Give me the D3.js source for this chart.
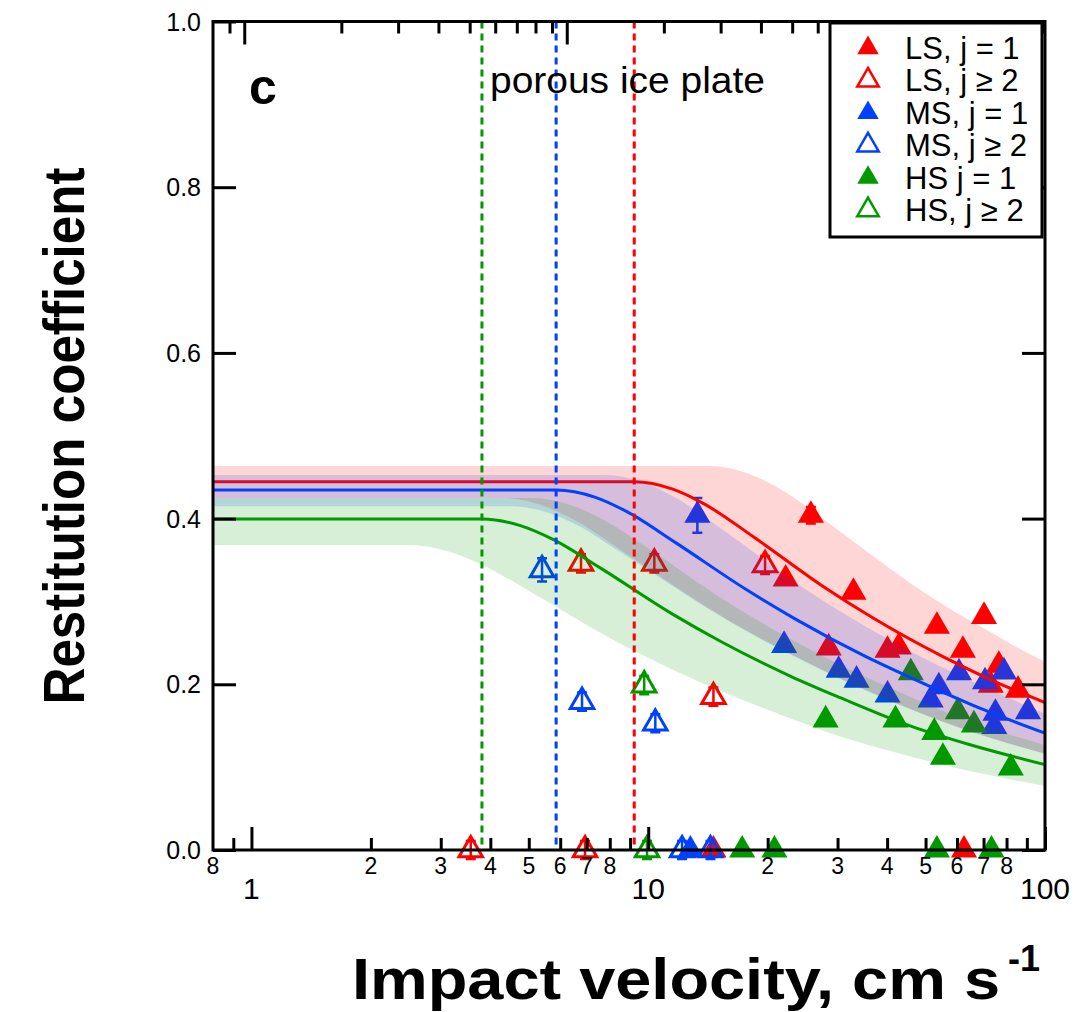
<!DOCTYPE html>
<html>
<head>
<meta charset="utf-8">
<script src="https://cdn.jsdelivr.net/npm/d3@7"></script>
<style>
  body { margin: 0; background: #fff; }
  svg { display: block; font-family: "Liberation Sans", Arial, Helvetica, sans-serif; }
</style>
</head>
<body>
<svg id="chart" width="1084" height="1012"></svg>
<script>
// ---- data ----
// LS = red, MS = blue, HS = green ; filled = j = 1, open = j >= 2
var lsFilledV = [25.7, 22.2, 32.9, 53.4, 70.2, 62.1, 76.5, 28.5, 40.1, 42.8, 73.0, 85.5, 14.6, 62.5];
var lsFilledE = [0.404, 0.327, 0.311, 0.270, 0.282, 0.241, 0.223, 0.244, 0.241, 0.245, 0.199, 0.193, 0, 0];
var lsOpenV = [6.77, 10.36, 19.7, 14.6, 3.57, 6.93];
var lsOpenE = [0.346, 0.346, 0.344, 0.185, 0, 0];

var msFilledV = [13.3, 22.0, 30.2, 33.5, 40.1, 60.7, 54.0, 51.5, 70.6, 78.8, 75.0, 74.5, 90.6, 12.77];
var msFilledE = [0.404, 0.247, 0.217, 0.205, 0.187, 0.214, 0.197, 0.181, 0.203, 0.215, 0.165, 0.149, 0.167, 0];
var msOpenV = [5.40, 6.81, 10.42, 12.17, 14.35];
var msOpenE = [0.338, 0.179, 0.153, 0, 0];

var hsFilledV = [45.9, 60.3, 66.2, 28.0, 42.0, 52.6, 55.3, 82.0, 17.25, 20.8, 53.4, 73.3];
var hsFilledE = [0.214, 0.167, 0.151, 0.157, 0.157, 0.142, 0.112, 0.099, 0, 0, 0, 0];
var hsOpenV = [9.77, 9.93];
var hsOpenE = [0.199, 0];

// error bars (only the visible ones)
var errLsFilled = [0.010, 0, 0, 0, 0, 0, 0, 0, 0, 0, 0, 0, 0, 0];
var errMsFilled = [0.021, 0, 0, 0, 0, 0, 0, 0, 0, 0, 0, 0, 0, 0];
var errOpenLs = [0.011, 0.011, 0.011, 0.011, 0.011, 0.011];
var errOpenMs = [0.014, 0.011, 0.011, 0.011, 0.011];
var errOpenHs = [0.011, 0.011];

// fitted curves
var redFitV = [0.8, 9.22, 11.53, 13.83, 18.44, 27.66, 36.88, 55.32, 73.76, 100];
var redFitE = [0.4445, 0.4445, 0.4356, 0.4178, 0.3778, 0.3178, 0.2800, 0.2334, 0.2045, 0.178];
var blueFitV = [0.8, 5.86, 7.33, 8.79, 11.72, 17.58, 23.44, 35.16, 46.88, 70.32, 100];
var blueFitE = [0.4345, 0.4345, 0.426, 0.409, 0.371, 0.315, 0.279, 0.234, 0.206, 0.169, 0.141];
var greenFitV = [0.8, 3.81, 4.76, 5.72, 7.62, 11.43, 15.24, 22.86, 30.48, 45.72, 64.77, 100];
var greenFitE = [0.3995, 0.3995, 0.3915, 0.3755, 0.3396, 0.2856, 0.2517, 0.2097, 0.1838, 0.1498, 0.1270, 0.103];

// uncertainty bands (upper / lower on a shared velocity grid)
var redBandV = [0.8, 4.3, 5.4, 6.45, 8.6, 11, 14.3, 17.9, 21.5, 28.6, 36, 43, 57, 73, 86, 100];
var redBandHi = [0.4635, 0.4635, 0.4635, 0.4635, 0.4635, 0.4635, 0.4635, 0.4542, 0.4357, 0.394, 0.3585, 0.3314, 0.2925, 0.2628, 0.2433, 0.2273];
var redBandLo = [0.425, 0.425, 0.416, 0.3995, 0.361, 0.3264, 0.291, 0.2634, 0.2431, 0.2133, 0.1915, 0.1756, 0.1524, 0.1352, 0.1253, 0.1162];
var blueBandV = [0.8, 4.5, 5.6, 6.75, 7.8, 9.75, 11.7, 15.6, 23.4, 31.2, 46.8, 62.4, 80, 100];
var blueBandHi = [0.4526, 0.4526, 0.4526, 0.4526, 0.4526, 0.4435, 0.4254, 0.3847, 0.3236, 0.2851, 0.2376, 0.2082, 0.1846, 0.1648];
var blueBandLo = [0.415, 0.415, 0.4071, 0.3901, 0.3713, 0.3417, 0.3165, 0.279, 0.2332, 0.2043, 0.1681, 0.1458, 0.1293, 0.1161];
var greenBandV = [0.8, 2.5, 3.125, 3.75, 5.1, 6.375, 7.65, 10.2, 15.3, 20.4, 30.6, 40.8, 62.5, 100];
var greenBandHi = [0.425, 0.425, 0.425, 0.425, 0.425, 0.4165, 0.3995, 0.3613, 0.3039, 0.2678, 0.2231, 0.1955, 0.1579, 0.1265];
var greenBandLo = [0.368, 0.368, 0.3606, 0.3459, 0.3104, 0.283, 0.261, 0.230, 0.1915, 0.1677, 0.1368, 0.1195, 0.0968, 0.0773];

// vertical markers (yield velocities)
var vLines = [3.81, 5.86, 9.22];

// axes
var xMinorTicks = [0.9, 2, 3, 4, 5, 6, 7, 8, 9, 20, 30, 40, 50, 60, 70, 80, 90];
var xMajorTicks = [1, 10, 100];
var xMinorLabels = [[0.8, "8"], [2, "2"], [3, "3"], [4, "4"], [5, "5"], [6, "6"], [7, "7"], [8, "8"],
                    [20, "2"], [30, "3"], [40, "4"], [50, "5"], [60, "6"], [70, "7"], [80, "8"]];
var topMinorTicks = [0.9, 2, 3, 4, 5, 6, 7, 8, 9, 20, 30, 40, 50, 60, 70, 80, 90, 200, 300];
var topDomain = [0.8, 304];
var yTicks = [0, 0.2, 0.4, 0.6, 0.8, 1.0];

var legendItems = [
    {label: "LS, j = 1", color: "#ff0000", open: false},
    {label: "LS, j \u2265 2", color: "#ff0000", open: true},
    {label: "MS, j = 1", color: "#0040ff", open: false},
    {label: "MS, j \u2265 2", color: "#0040ff", open: true},
    {label: "HS j = 1", color: "#009900", open: false},
    {label: "HS, j \u2265 2", color: "#009900", open: true}
];

var RED = "#ff0000", BLUE = "#0040ff", GREEN = "#009900";

// ---- layout ----
var L = 213, R = 1045, T = 21.5, B = 850;
var svg = d3.select('#chart');

var x = d3.scaleLog().domain([0.8, 100]).range([L, R]);
var xTop = d3.scaleLog().domain(topDomain).range([L, R]);
var y = d3.scaleLinear().domain([0, 1]).range([B, T]);

function zip(vs, es) {
    return vs.map(function(v, i) { return {v: v, e: es[i]}; });
}

var plot = svg.append('g');

// markers first, bands are laid over them
function drawMarkers(vs, es, errs, color, open) {
    var pts = vs.map(function(v, i) { return {v: v, e: es[i], err: errs[i] || 0}; });
    var g = plot.append('g');
    pts.filter(function(d) { return d.err > 0; })
        .forEach(function(d) {
            var y0 = y(d.e - d.err), y1 = y(d.e + d.err), cx = x(d.v);
            g.append('path')
                .attr('d', 'M' + cx + ',' + y0 + 'V' + y1 + 'M' + (cx - 5) + ',' + y0 + 'h10M' + (cx - 5) + ',' + y1 + 'h10')
                .attr('stroke', color)
                .attr('stroke-width', 2.5)
                .attr('fill', 'none');
        });
    g.selectAll('path.tri')
        .data(pts)
        .enter()
        .append('path')
        .attr('class', 'tri')
        .attr('d', d3.symbol(d3.symbolTriangle, open ? 240 : 295))
        .attr('transform', function(d) { return 'translate(' + x(d.v) + ',' + y(d.e) + ')'; })
        .attr('fill', open ? 'none' : color)
        .attr('stroke', open ? color : 'none')
        .attr('stroke-width', 3);
}

drawMarkers(lsFilledV, lsFilledE, errLsFilled, RED, false);
drawMarkers(msFilledV, msFilledE, errMsFilled, BLUE, false);
drawMarkers(hsFilledV, hsFilledE, [], GREEN, false);
drawMarkers(lsOpenV, lsOpenE, errOpenLs, RED, true);
drawMarkers(msOpenV, msOpenE, errOpenMs, BLUE, true);
drawMarkers(hsOpenV, hsOpenE, errOpenHs, GREEN, true);

var area = d3.area()
    .x(function(d) { return x(d.v); })
    .y0(function(d) { return y(d.lo); })
    .y1(function(d) { return y(d.hi); })
    .curve(d3.curveMonotoneX);
var line = d3.line()
    .x(function(d) { return x(d.v); })
    .y(function(d) { return y(d.e); })
    .curve(d3.curveMonotoneX);

function band(vs, hi, lo) {
    return vs.map(function(v, i) { return {v: v, hi: hi[i], lo: lo[i]}; });
}

function drawFit(bandPts, fitPts, color) {
    plot.append('path')
        .attr('d', area(bandPts))
        .attr('fill', color)
        .attr('fill-opacity', 0.16);
    plot.append('path')
        .attr('d', line(fitPts))
        .attr('fill', 'none')
        .attr('stroke', color)
        .attr('stroke-width', 3);
}

drawFit(band(redBandV, redBandHi, redBandLo), zip(redFitV, redFitE), RED);
drawFit(band(blueBandV, blueBandHi, blueBandLo), zip(blueFitV, blueFitE), BLUE);
drawFit(band(greenBandV, greenBandHi, greenBandLo), zip(greenFitV, greenFitE), GREEN);

// dashed yield lines
var vColors = [GREEN, BLUE, RED];
plot.selectAll('line.yield')
    .data(vLines)
    .enter()
    .append('line')
    .attr('class', 'yield')
    .attr('x1', function(d) { return x(d); })
    .attr('x2', function(d) { return x(d); })
    .attr('y1', T)
    .attr('y2', B)
    .attr('stroke', function(d, i) { return vColors[i]; })
    .attr('stroke-width', 3)
    .attr('stroke-dasharray', '7,5');

// ---- axes ----
function tickGroup(axis) {
    var g = svg.append('g').call(axis);
    g.select('.domain').remove();
    g.selectAll('line').attr('stroke', '#000').attr('stroke-width', 3);
    return g;
}

tickGroup(d3.axisBottom(x).tickValues(xMinorTicks).tickSize(-12).tickSizeOuter(0).tickFormat(''))
    .attr('transform', 'translate(0,' + B + ')');
tickGroup(d3.axisBottom(x).tickValues(xMajorTicks).tickSize(-23).tickSizeOuter(0).tickFormat(''))
    .attr('transform', 'translate(0,' + B + ')');
tickGroup(d3.axisTop(xTop).tickValues(topMinorTicks).tickSize(-12).tickSizeOuter(0).tickFormat(''))
    .attr('transform', 'translate(0,' + T + ')');
tickGroup(d3.axisTop(xTop).tickValues(xMajorTicks).tickSize(-23).tickSizeOuter(0).tickFormat(''))
    .attr('transform', 'translate(0,' + T + ')');
tickGroup(d3.axisLeft(y).tickValues(yTicks).tickSize(-23).tickSizeOuter(0).tickFormat(''))
    .attr('transform', 'translate(' + L + ',0)');
tickGroup(d3.axisRight(y).tickValues(yTicks).tickSize(-23).tickSizeOuter(0).tickFormat(''))
    .attr('transform', 'translate(' + R + ',0)');

svg.append('rect')
    .attr('x', L)
    .attr('y', T)
    .attr('width', R - L)
    .attr('height', B - T)
    .attr('fill', 'none')
    .attr('stroke', '#000')
    .attr('stroke-width', 3);

// tick labels
svg.append('g').selectAll('text')
    .data(yTicks)
    .enter()
    .append('text')
    .attr('x', 201)
    .attr('y', function(d) { return y(d) + 9; })
    .attr('text-anchor', 'end')
    .attr('font-size', 25)
    .text(function(d) { return d3.format('.1f')(d); });

svg.append('g').selectAll('text')
    .data(xMinorLabels)
    .enter()
    .append('text')
    .attr('x', function(d) { return x(d[0]); })
    .attr('y', 874)
    .attr('text-anchor', 'middle')
    .attr('font-size', 23)
    .text(function(d) { return d[1]; });

svg.append('g').selectAll('text')
    .data(xMajorTicks)
    .enter()
    .append('text')
    .attr('x', function(d) { return x(d); })
    .attr('y', 899)
    .attr('text-anchor', 'middle')
    .attr('font-size', 30)
    .text(function(d) { return d; });

// annotations
svg.append('text')
    .attr('x', 249)
    .attr('y', 104)
    .attr('font-size', 50)
    .attr('font-weight', 'bold')
    .text('c');
svg.append('text')
    .attr('x', 490)
    .attr('y', 93)
    .attr('font-size', 36)
    .attr('textLength', 275)
    .attr('lengthAdjust', 'spacingAndGlyphs')
    .text('porous ice plate');

// axis titles
svg.append('text')
    .attr('transform', 'translate(84,436) rotate(-90)')
    .attr('text-anchor', 'middle')
    .attr('font-size', 58)
    .attr('font-weight', 'bold')
    .attr('textLength', 537)
    .attr('lengthAdjust', 'spacingAndGlyphs')
    .text('Restitution coefficient');

svg.append('text')
    .attr('x', 352)
    .attr('y', 999)
    .attr('font-size', 57)
    .attr('font-weight', 'bold')
    .attr('textLength', 648)
    .attr('lengthAdjust', 'spacingAndGlyphs')
    .text('Impact velocity, cm s');
svg.append('text')
    .attr('x', 1008)
    .attr('y', 971)
    .attr('font-size', 36)
    .attr('font-weight', 'bold')
    .text('-1');

// ---- legend ----
var lg = svg.append('g');
lg.append('rect')
    .attr('x', 830)
    .attr('y', 23)
    .attr('width', 212)
    .attr('height', 214)
    .attr('fill', '#fff')
    .attr('stroke', '#000')
    .attr('stroke-width', 3);
var rows = lg.selectAll('g.row')
    .data(legendItems)
    .enter()
    .append('g')
    .attr('class', 'row')
    .attr('transform', function(d, i) { return 'translate(0,' + (48 + i * 32.4) + ')'; });
rows.append('path')
    .attr('d', d3.symbol(d3.symbolTriangle, 200))
    .attr('transform', 'translate(868,0)')
    .attr('fill', function(d) { return d.open ? 'none' : d.color; })
    .attr('stroke', function(d) { return d.open ? d.color : 'none'; })
    .attr('stroke-width', 2.5);
rows.append('text')
    .attr('x', 905)
    .attr('y', 11)
    .attr('font-size', 31)
    .text(function(d) { return d.label; });
</script>
</body>
</html>
